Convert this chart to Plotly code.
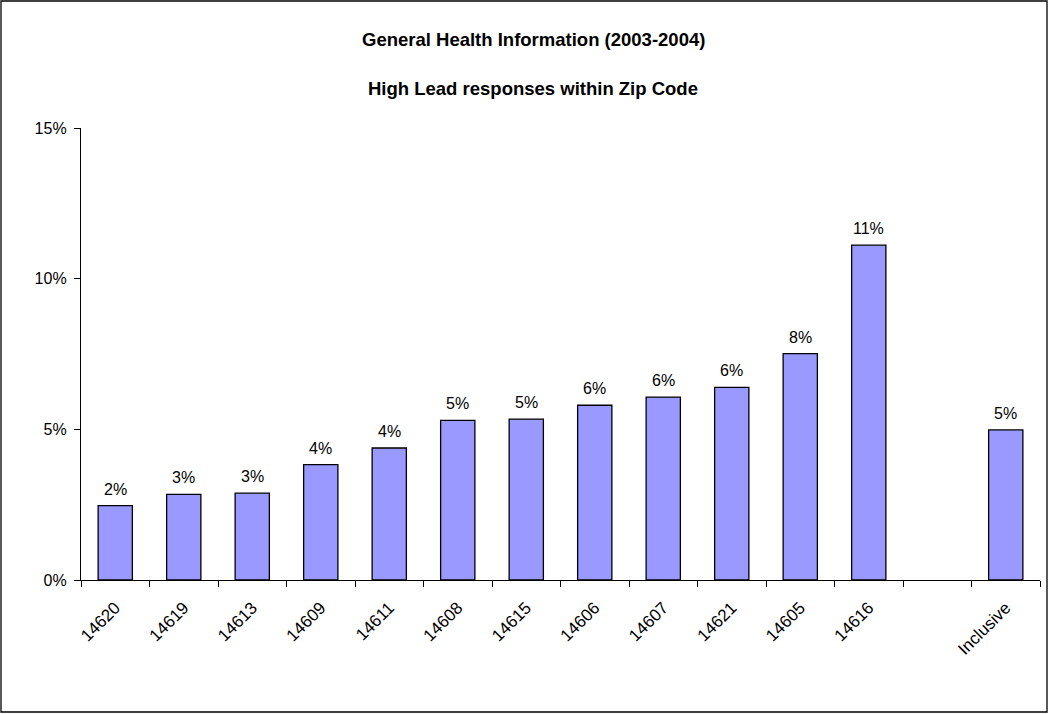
import plotly.graph_objects as go

categories = ["14620", "14619", "14613", "14609", "14611", "14608", "14615",
              "14606", "14607", "14621", "14605", "14616", " ", "Inclusive"]
values = [2.47, 2.84, 2.88, 3.83, 4.38, 5.30, 5.34,
          5.80, 6.07, 6.39, 7.51, 11.11, None, 4.98]
labels = [f"{v:.0f}%" if v is not None else "" for v in values]

W, H = 1049, 714
ml, mr, mt, mb = 81, 9, 128, 134
pw, ph = W - ml - mr, H - mt - mb

title_font = dict(family="Liberation Sans, Arial", size=18.5, color="black")
title_x = (533 - ml) / pw

fig = go.Figure(go.Bar(
    x=categories, y=values,
    marker=dict(color="#9999ff", line=dict(color="black", width=1.3)),
    width=0.5, cliponaxis=False, showlegend=False, hoverinfo="x+y",
))

annotations = [
    dict(text="<b>General Health Information (2003-2004)</b>", xref="paper", yref="paper",
         x=title_x, y=(H - mb - 40) / ph, xanchor="center", yanchor="middle", showarrow=False,
         font=title_font),
    dict(text="<b>High Lead responses within Zip Code</b>", xref="paper", yref="paper",
         x=title_x, y=(H - mb - 88) / ph, xanchor="center", yanchor="middle", showarrow=False,
         font=title_font),
]
for i, (v, t) in enumerate(zip(values, labels)):
    if v is None:
        continue
    annotations.append(dict(text=t, x=i, y=v, xref="x", yref="y", showarrow=False,
                            xanchor="center", yanchor="bottom", yshift=6,
                            font=dict(family="Liberation Sans, Arial", size=16, color="black")))

fig.update_layout(
    width=W, height=H, margin=dict(l=ml, r=mr, t=mt, b=mb),
    paper_bgcolor="white", plot_bgcolor="white",
    font=dict(family="Liberation Sans, Arial", size=16, color="black"),
    annotations=annotations,
    shapes=[dict(type="rect", xref="paper", yref="paper",
                 x0=(1 - ml) / pw, x1=(W - 2 - ml) / pw,
                 y0=-(mb - 2) / ph, y1=(H - mb - 1) / ph,
                 line=dict(color="black", width=1.3), fillcolor="rgba(0,0,0,0)", layer="below")],
)

fig.update_xaxes(type="category", range=[-0.5, len(categories) - 0.5], autorange=False,
                 showline=True, linecolor="black", linewidth=1.3,
                 ticks="outside", tickson="boundaries", ticklen=6, tickcolor="black",
                 tickangle=-45, tickfont=dict(size=17), ticklabelstandoff=10, showgrid=False)
fig.update_yaxes(range=[0, 15], tickvals=[0, 5, 10, 15], ticktext=["0%", "5%", "10%", "15%"],
                 showline=True, linecolor="black", linewidth=1.3, ticks="outside",
                 ticklen=6, tickcolor="black", showgrid=False, zeroline=False,
                 tickfont=dict(size=16), ticklabelstandoff=4)

fig.write_html("out.html", config={"displayModeBar": False},
               post_script="document.body.style.margin='0';document.body.style.padding='0';")
